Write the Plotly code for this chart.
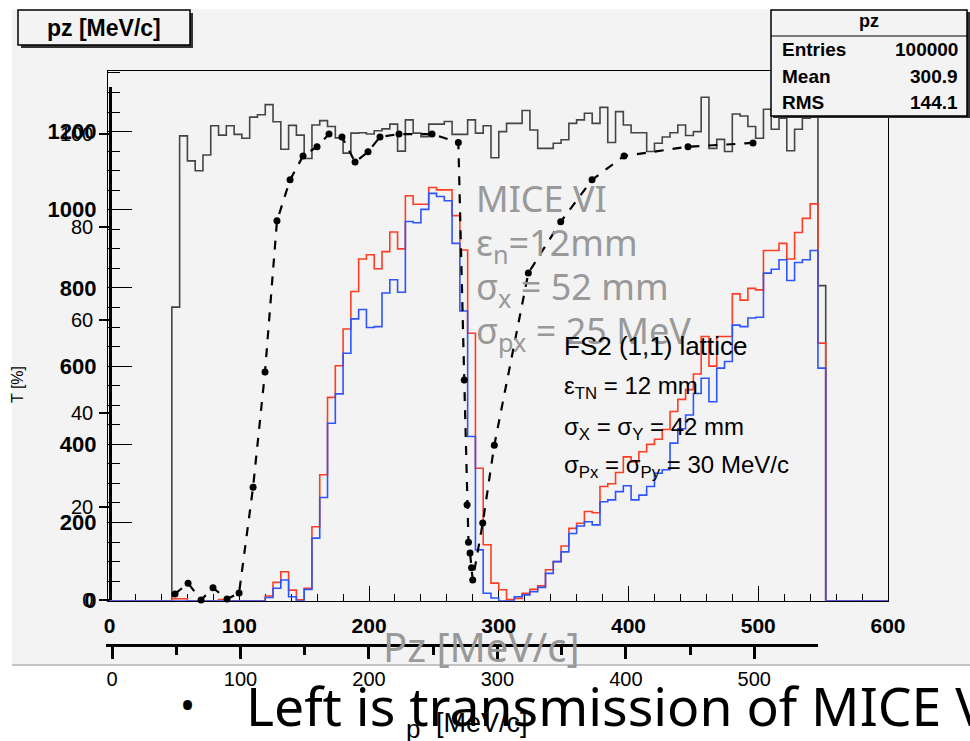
import plotly.graph_objects as go

W, H = 970, 741

# ---------------- data ----------------
bin_width = 6
bin_lo = 48          # lower edge of first filled pz bin [MeV/c]
x_max = 600

black_counts = [751, 1189, 1125, 1100, 1140, 1215, 1191, 1215, 1193, 1183, 1237,
                1243, 1269, 1225, 1155, 1216, 1191, 1131, 1217, 1228, 1213,
                1184, 1145, 1196, 1197, 1194, 1202, 1207, 1219, 1150, 1230,
                1196, 1187, 1219, 1219, 1226, 1193, 1193, 1230, 1196, 1215,
                1133, 1200, 1221, 1221, 1254, 1204, 1157, 1157, 1170, 1179,
                1221, 1230, 1247, 1221, 1262, 1172, 1251, 1217, 1197, 1197,
                1149, 1170, 1186, 1197, 1217, 1190, 1200, 1288, 1157, 1180,
                1149, 1245, 1240, 1213, 1183, 1257, 1206, 1234, 1151, 1206,
                1234, 1262, 806]

red_counts = [5, 5, 0, 0, 0, 0, 3, 0, 0, 0, 0, 0,
              12, 47, 74, 27, 2, 32, 189, 322, 520, 601,
              695, 791, 874, 885, 849, 893, 943, 900, 1036, 1014,
              1014, 1057, 1051, 1051, 985, 897, 684, 339, 143, 45,
              28, 3, 6, 19, 29, 38, 79, 100, 140, 185,
              198, 228, 225, 292, 299, 328, 368, 355, 381, 400,
              413, 438, 484, 515, 540, 580, 676, 600, 676, 676,
              785, 769, 799, 795, 896, 896, 914, 874, 942, 978,
              1015, 659]

blue_counts = [0, 0, 0, 0, 0, 0, 0, 0, 0, 0, 0, 0,
               8, 32, 53, 10, 0, 29, 160, 264, 454, 529,
               633, 721, 745, 699, 701, 787, 821, 789, 970, 967,
               1001, 1042, 1034, 1023, 914, 741, 420, 130, 19, 7,
               0, 0, 10, 15, 23, 34, 70, 100, 125, 172,
               191, 202, 194, 253, 258, 279, 294, 258, 270, 292,
               326, 335, 403, 440, 475, 530, 569, 509, 595, 612,
               705, 701, 723, 725, 838, 848, 872, 819, 865, 872,
               896, 595]

trans_p = [49.0, 59.2, 69.3, 78.6, 89.5, 98.9, 109.8, 119.1, 128.4, 138.6,
           148.7, 159.6, 168.9, 179.0, 189.2, 199.3, 208.6, 223.4, 249.1, 269.6,
           274.2, 276.4, 277.5, 278.7, 279.9, 280.8, 288.6, 297.6, 324.1, 349.3,
           373.7, 398.6, 448.4, 499.0]
trans_pct = [1.3, 3.6, 0.0, 2.6, 0.2, 1.5, 24.2, 48.9, 81.3, 90.1,
             95.2, 97.2, 99.9, 99.3, 93.9, 96.1, 99.3, 99.9, 99.9, 98.1,
             47.2, 20.4, 12.4, 10.1, 6.9, 4.3, 16.5, 33.2, 70.1, 81.1,
             90.1, 95.2, 97.2, 98.0]

main_xticks = [0, 100, 200, 300, 400, 500, 600]
main_yticks = [0, 200, 400, 600, 800, 1000, 1200]
trans_xticks = [0, 100, 200, 300, 400, 500]
trans_yticks = [0, 20, 40, 60, 80, 100]

stats_rows = [("Entries", "100000"), ("Mean", "300.9"), ("RMS", "144.1")]

# ---------------- helpers ----------------
def fx(p):
    return p / W

def fy(p):
    return 1 - p / H

edges = [bin_lo + i * bin_width for i in range(len(black_counts))]
end_edge = edges[-1] + bin_width

BOLD = "Liberation Sans, Arial, sans-serif"
NARROW = "Liberation Sans Narrow, Arial Narrow, Liberation Sans, sans-serif"
SLIDE = "Noto Sans, Open Sans, sans-serif"

fig = go.Figure()

# black pz histogram
fig.add_trace(go.Scatter(
    x=[edges[0]] + edges + [end_edge], y=[0] + black_counts + [0],
    mode="lines", line=dict(shape="hv", color="#454545", width=1.6),
    xaxis="x", yaxis="y", showlegend=False, hoverinfo="skip"))

# red and blue histograms (drawn over full range)
for counts, col in ((red_counts, "#ff3d22"), (blue_counts, "#2c55ff")):
    fig.add_trace(go.Scatter(
        x=[0] + edges + [end_edge, x_max], y=[0] + counts + [0, 0],
        mode="lines", line=dict(shape="hv", color=col, width=1.6),
        xaxis="x", yaxis="y", showlegend=False, hoverinfo="skip"))

# transmission curve
fig.add_trace(go.Scatter(
    x=trans_p, y=trans_pct, mode="lines+markers",
    line=dict(color="black", width=2.2, dash="dash"),
    marker=dict(color="black", size=7),
    xaxis="x2", yaxis="y2", cliponaxis=False, showlegend=False, hoverinfo="skip"))

shapes = []
# ROOT canvas background
shapes.append(dict(type="rect", xref="paper", yref="paper", layer="below",
                   x0=fx(12), x1=fx(970), y0=fy(665), y1=fy(9),
                   fillcolor="#f3f3f3", line=dict(width=0)))
shapes.append(dict(type="line", xref="paper", yref="paper", layer="below",
                   x0=fx(12), x1=fx(970), y0=fy(665), y1=fy(665),
                   line=dict(color="#c4c4c4", width=2)))
# title box with shadow
shapes.append(dict(type="rect", xref="paper", yref="paper", layer="above",
                   x0=fx(21), x1=fx(193), y0=fy(48), y1=fy(13),
                   fillcolor="#333333", line=dict(width=0)))
shapes.append(dict(type="rect", xref="paper", yref="paper", layer="above",
                   x0=fx(18), x1=fx(190), y0=fy(45), y1=fy(10),
                   fillcolor="#f3f3f3", line=dict(color="black", width=1.5)))
# stats box
shapes.append(dict(type="rect", xref="paper", yref="paper", layer="above",
                   x0=fx(773), x1=fx(970), y0=fy(118), y1=fy(12),
                   fillcolor="#333333", line=dict(width=0)))
shapes.append(dict(type="rect", xref="paper", yref="paper", layer="above",
                   x0=fx(771), x1=fx(967), y0=fy(116), y1=fy(10),
                   fillcolor="#f3f3f3", line=dict(color="black", width=1.5)))
shapes.append(dict(type="line", xref="paper", yref="paper", layer="above",
                   x0=fx(771), x1=fx(967), y0=fy(36), y1=fy(36),
                   line=dict(color="black", width=1.2)))

ann = []
def text(x, y, s, size, family, color="black", xanchor="left", weight=None, angle=0):
    f = dict(size=size, family=family, color=color)
    if weight:
        f["weight"] = weight
    ann.append(dict(x=fx(x), y=fy(y), xref="paper", yref="paper", text=s,
                    showarrow=False, xanchor=xanchor, yanchor="middle",
                    font=f, textangle=angle))

text(104, 28, "pz [MeV/c]", 23, BOLD, xanchor="center", weight="bold")
text(869, 21, "pz", 18, BOLD, xanchor="center", weight="bold")
for i, (k, v) in enumerate(stats_rows):
    yy = 50 + i * 26.5
    text(780, yy, k, 19, BOLD, weight="bold")
    text(960, yy, v, 19, BOLD, xanchor="right", weight="bold")

grey = "#999999"
text(474, 198, "MICE VI", 36, SLIDE, color=grey)
text(474, 244, "ε<sub>n</sub>=12mm", 36, SLIDE, color=grey)
text(474, 288, "σ<sub>x</sub> = 52 mm", 36, SLIDE, color=grey)
text(474, 332, "σ<sub>px</sub> = 25 MeV", 36, SLIDE, color=grey)

text(562, 346, "FS2 (1,1) lattice", 26, NARROW)
text(562, 388, "ε<sub>TN</sub> = 12 mm", 24, NARROW)
text(562, 428, "σ<sub>X</sub> = σ<sub>Y</sub> = 42 mm", 24, NARROW)
text(562, 467, "σ<sub>Px</sub> = σ<sub>Py</sub> = 30 MeV/c", 24, NARROW)

text(481, 646, "Pz [MeV/c]", 40, SLIDE, color=grey, xanchor="center")
text(404, 729, "p", 26, NARROW)
text(434, 723, "[MeV/c]", 27, NARROW)
text(17, 385, "T [%]", 16, NARROW, xanchor="center", angle=-90)

text(187, 704, "•", 40, SLIDE, xanchor="center")
text(244, 705, "Left is transmission of MICE VI", 53.5, SLIDE)

fig.update_layout(
    width=W, height=H, margin=dict(l=0, r=0, t=0, b=0),
    paper_bgcolor="white", plot_bgcolor="rgba(0,0,0,0)",
    shapes=shapes, annotations=ann,
    xaxis=dict(domain=[fx(108), fx(888)], range=[-1.2, 600], anchor="y",
               automargin=False,
               tickvals=main_xticks, ticks="inside", ticklen=15, tickwidth=1.2,
               tickcolor="black",
               minor=dict(dtick=20, tick0=0, ticks="inside", ticklen=7,
                          tickwidth=1, tickcolor="black"),
               showline=True, linecolor="black", linewidth=1.2, mirror=True,
               showgrid=False, zeroline=False, layer="below traces",
               ticklabelstandoff=6,
               tickfont=dict(family=BOLD, size=21, color="black", weight="bold")),
    yaxis=dict(domain=[fy(600.7), fy(71)], range=[0, 1355], anchor="x",
               automargin=False,
               tickvals=main_yticks, ticks="inside", ticklen=24, tickwidth=1.2,
               tickcolor="black",
               minor=dict(dtick=50, tick0=0, ticks="inside", ticklen=12,
                          tickwidth=1, tickcolor="black"),
               showline=True, linecolor="black", linewidth=1.2, mirror=True,
               showgrid=False, zeroline=False, ticklabelstandoff=6,
               tickfont=dict(family=BOLD, size=22, color="black", weight="bold")),
    xaxis2=dict(domain=[fx(106), fx(818)], range=[-4.7, 549.6],
                anchor="free", position=fy(645), automargin=False,
                tickvals=trans_xticks, ticks="outside", ticklen=12, tickwidth=2.5,
                tickcolor="black",
                minor=dict(dtick=50, tick0=0, ticks="outside", ticklen=8,
                           tickwidth=2.5, tickcolor="black"),
                showline=True, linecolor="black", linewidth=3,
                showgrid=False, zeroline=False, ticklabelstandoff=3,
                tickfont=dict(family=NARROW, size=20, color="black")),
    yaxis2=dict(domain=[fy(600), fy(87)], range=[0, 110],
                anchor="free", position=fx(110), automargin=False,
                tickvals=trans_yticks, ticks="outside", ticklen=10, tickwidth=2.2,
                tickcolor="black",
                showline=True, linecolor="black", linewidth=2.5,
                showgrid=False, zeroline=False, ticklabelstandoff=2,
                tickfont=dict(family=NARROW, size=20, color="black")),
)

fig.write_html("out.html", config={"displayModeBar": False},
               post_script="document.body.style.margin='0';document.body.style.overflow='hidden';")
